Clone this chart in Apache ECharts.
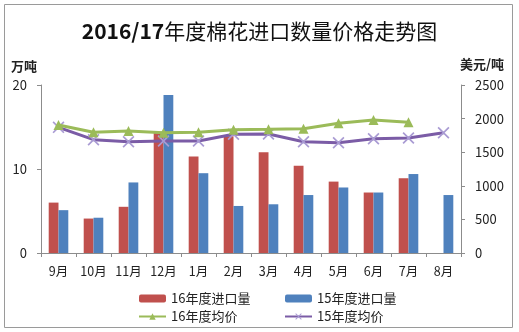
<!DOCTYPE html>
<html>
<head>
<meta charset="utf-8">
<script src="https://cdn.jsdelivr.net/npm/echarts@6/dist/echarts.min.js"></script>
<style>
  html, body { margin: 0; padding: 0; background: #fff; }
  #chart { width: 519px; height: 332px; }
</style>
</head>
<body>
<div id="chart"></div>
<script>
// Months of the marketing year (Sep - Aug)
const months = ['9月', '10月', '11月', '12月', '1月', '2月', '3月', '4月', '5月', '6月', '7月', '8月'];

// Import volumes, 10k tonnes
const import16 = [6.0, 4.1, 5.5, 14.3, 11.5, 13.9, 12.0, 10.4, 8.5, 7.2, 8.9, null];
const import15 = [5.1, 4.2, 8.4, 18.8, 9.5, 5.6, 5.8, 6.9, 7.8, 7.2, 9.4, 6.9];

// Average prices, USD per tonne
const price16 = [1905, 1796, 1815, 1790, 1796, 1835, 1840, 1850, 1930, 1979, 1945, null];
const price15 = [1870, 1686, 1656, 1667, 1667, 1766, 1771, 1656, 1641, 1701, 1711, 1790];

const names = ['16年度进口量', '15年度进口量', '16年度均价', '15年度均价'];

const FONT = '"Noto Sans CJK SC", "Noto Sans", sans-serif';
const crossPath = 'path://M0,1L1,0L5,4L9,0L10,1L6,5L10,9L9,10L5,6L1,10L0,9L4,5Z';

const chart = echarts.init(document.getElementById('chart'), null, { renderer: 'canvas' });

const axisLine = { show: true, lineStyle: { color: '#8c8c8c', width: 1 } };
const axisTick = { show: true, length: 4, lineStyle: { color: '#8c8c8c' } };
const plain = v => String(v);

chart.setOption({
  animation: false,
  backgroundColor: '#fff',
  textStyle: { fontFamily: FONT },
  title: {
    text: '{b|2016/17}{n|年度棉花进口数量价格走势图}',
    left: 'center',
    top: 16,
    textStyle: {
      rich: {
        b: { fontFamily: FONT, fontSize: 21, fontWeight: 'bold', color: '#111' },
        n: { fontFamily: FONT, fontSize: 21, fontWeight: 'normal', color: '#111' }
      }
    }
  },
  graphic: [{
    type: 'rect',
    shape: { x: 4.5, y: 4.5, width: 508, height: 323 },
    style: { fill: 'none', stroke: '#9a9a9a', lineWidth: 1 },
    silent: true
  }],
  legend: [
    {
      left: 133, top: 287, orient: 'vertical', itemGap: 5,
      itemWidth: 27, itemHeight: 8,
      data: [names[0], names[2]],
      textStyle: { fontSize: 13, color: '#222', fontFamily: FONT }
    },
    {
      left: 279, top: 287, orient: 'vertical', itemGap: 5,
      itemWidth: 27, itemHeight: 8,
      data: [names[1], names[3]],
      textStyle: { fontSize: 13, color: '#222', fontFamily: FONT }
    }
  ],
  grid: { left: 41, right: 58, top: 85, bottom: 79, containLabel: false },
  xAxis: {
    type: 'category',
    data: months,
    boundaryGap: true,
    axisLine: axisLine,
    axisTick: axisTick,
    axisLabel: { color: '#222', fontSize: 12.5, margin: 12, interval: 0 },
    splitLine: { show: false }
  },
  yAxis: [
    {
      type: 'value', min: 0, max: 20, interval: 10,
      name: '万吨', nameLocation: 'end', nameGap: 12,
      nameTextStyle: { align: 'right', padding: [0, 4, 0, 0], fontWeight: 'bold', fontSize: 13, color: '#222' },
      axisLine: axisLine, axisTick: axisTick,
      axisLabel: { color: '#222', fontSize: 13, margin: 14, formatter: plain },
      splitLine: { show: false }
    },
    {
      type: 'value', min: 0, max: 2500, interval: 500,
      name: '美元/吨', nameLocation: 'end', nameGap: 14,
      nameTextStyle: { align: 'left', padding: [0, 0, 0, -1], fontWeight: 'bold', fontSize: 13, color: '#222' },
      axisLine: axisLine, axisTick: axisTick,
      axisLabel: { color: '#222', fontSize: 13, margin: 14, formatter: plain },
      splitLine: { show: false }
    }
  ],
  series: [
    {
      name: names[0], type: 'bar', yAxisIndex: 0,
      data: import16, barGap: '0%', barCategoryGap: '44%',
      itemStyle: { color: '#C0504D' }
    },
    {
      name: names[1], type: 'bar', yAxisIndex: 0,
      data: import15, barGap: '0%', barCategoryGap: '44%',
      itemStyle: { color: '#4F81BD' }
    },
    {
      name: names[2], type: 'line', yAxisIndex: 1,
      data: price16,
      symbol: 'triangle', symbolSize: 10,
      lineStyle: { color: '#9BBB59', width: 3 },
      itemStyle: { color: '#9BBB59' },
      z: 5
    },
    {
      name: names[3], type: 'line', yAxisIndex: 1,
      data: price15,
      symbol: crossPath, symbolSize: 12,
      lineStyle: { color: '#7B5CA6', width: 3 },
      itemStyle: { color: '#A99BD3' },
      z: 4
    }
  ]
});
</script>
</body>
</html>
